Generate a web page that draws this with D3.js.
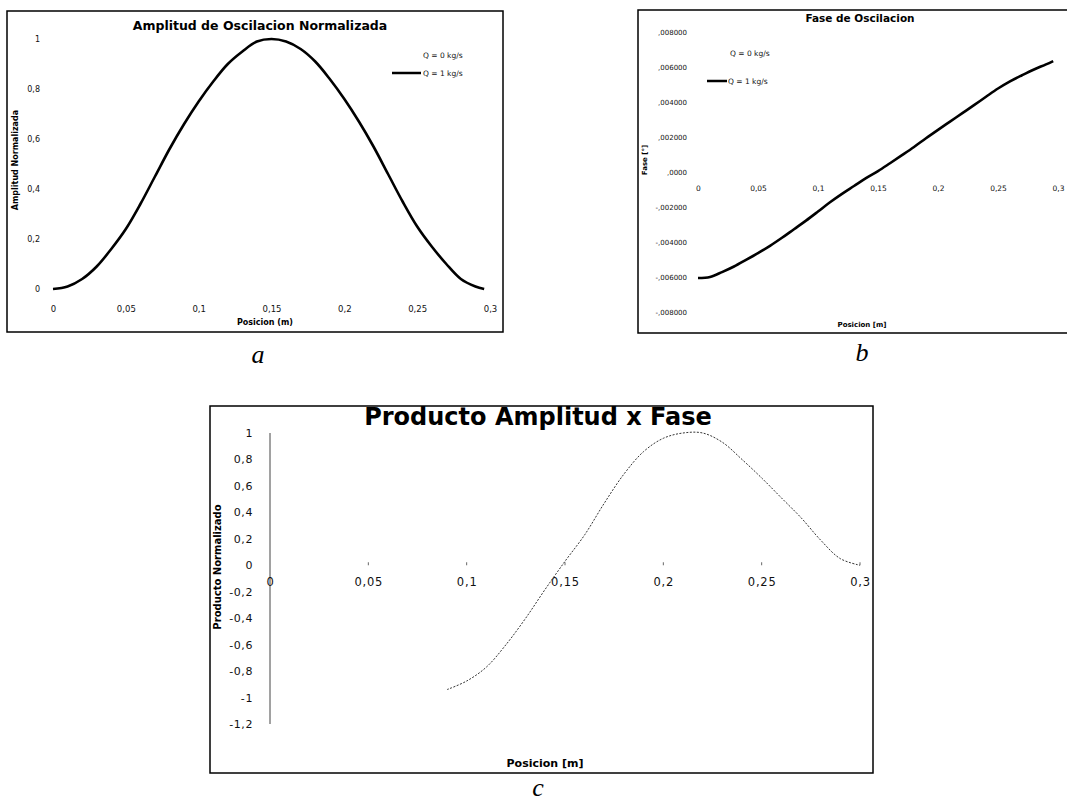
<!DOCTYPE html>
<html>
<head>
<meta charset="utf-8">
<script src="https://cdn.jsdelivr.net/npm/d3@7"></script>
<style>
body { margin: 0; background: #fff; }
svg { display: block; }
.tick text { font-family: "DejaVu Sans", sans-serif; fill: #111; }
.ttl { font-family: "DejaVu Sans", sans-serif; font-weight: bold; fill: #000; }
.lbl { font-family: "Liberation Serif", serif; font-style: italic; font-size: 26px; fill: #000; }
.leg { font-family: "DejaVu Sans", sans-serif; font-size: 7.5px; fill: #111; }
</style>
</head>
<body>
<script>
// panel a - amplitud normalizada
var posA = [0, 0.01, 0.02, 0.03, 0.04, 0.05, 0.06, 0.07, 0.08, 0.09, 0.10, 0.11, 0.12, 0.13, 0.14, 0.15,
            0.16, 0.17, 0.18, 0.19, 0.20, 0.21, 0.22, 0.23, 0.24, 0.25, 0.26, 0.27, 0.28, 0.29, 0.296];
var ampA = [0, 0.01, 0.04, 0.09, 0.16, 0.24, 0.34, 0.45, 0.56, 0.66, 0.75, 0.83, 0.90, 0.95, 0.99, 1.0,
            0.99, 0.96, 0.91, 0.84, 0.76, 0.67, 0.57, 0.46, 0.35, 0.25, 0.17, 0.10, 0.04, 0.01, 0];
var xTicksA = [0, 0.05, 0.1, 0.15, 0.2, 0.25, 0.3];
var xLabelsA = ["0", "0,05", "0,1", "0,15", "0,2", "0,25", "0,3"];
var yTicksA = [0, 0.2, 0.4, 0.6, 0.8, 1];
var yLabelsA = ["0", "0,2", "0,4", "0,6", "0,8", "1"];

// panel b - fase
var posB = [0, 0.01, 0.02, 0.03, 0.04, 0.05, 0.06, 0.07, 0.08, 0.09, 0.10, 0.11, 0.12, 0.13, 0.14, 0.15,
            0.16, 0.17, 0.18, 0.19, 0.20, 0.21, 0.22, 0.23, 0.24, 0.25, 0.26, 0.27, 0.28, 0.29, 0.296];
var faseB = [-0.00606, -0.00600, -0.00572, -0.00540, -0.00502, -0.00463, -0.00422, -0.00376, -0.00327,
             -0.00278, -0.00226, -0.00173, -0.00125, -0.00080, -0.00035, 0.00005, 0.00050, 0.00096,
             0.00143, 0.00193, 0.00241, 0.00288, 0.00335, 0.00382, 0.00430, 0.00477, 0.00518, 0.00553,
             0.00586, 0.00615, 0.00634];
var xTicksB = [0, 0.05, 0.1, 0.15, 0.2, 0.25, 0.3];
var xLabelsB = ["0", "0,05", "0,1", "0,15", "0,2", "0,25", "0,3"];
var yTicksB = [-0.008, -0.006, -0.004, -0.002, 0, 0.002, 0.004, 0.006, 0.008];
var yLabelsB = ["-,008000", "-,006000", "-,004000", "-,002000", ",0000", ",002000", ",004000", ",006000", ",008000"];

// panel c - producto
var posC = [0.09, 0.10, 0.11, 0.12, 0.13, 0.14, 0.15, 0.16, 0.17, 0.18, 0.19, 0.20, 0.21,
            0.22, 0.23, 0.24, 0.25, 0.26, 0.27, 0.28, 0.29, 0.30];
var prodC = [-0.94, -0.875, -0.77, -0.60, -0.40, -0.18, 0.03, 0.23, 0.47, 0.69, 0.86, 0.96, 1.0,
             1.0, 0.93, 0.80, 0.66, 0.51, 0.36, 0.19, 0.05, 0.0];
var xTicksC = [0, 0.05, 0.1, 0.15, 0.2, 0.25, 0.3];
var xLabelsC = ["0", "0,05", "0,1", "0,15", "0,2", "0,25", "0,3"];
var yTicksC = [-1.2, -1, -0.8, -0.6, -0.4, -0.2, 0, 0.2, 0.4, 0.6, 0.8, 1];
var yLabelsC = ["-1,2", "-1", "-0,8", "-0,6", "-0,4", "-0,2", "0", "0,2", "0,4", "0,6", "0,8", "1"];

var svg = d3.select("body").append("svg")
    .attr("width", 1067)
    .attr("height", 805);

svg.append("rect").attr("width", 1067).attr("height", 805).attr("fill", "#fff");

function lbl(arr, ticks) {
    return function(d) { return arr[ticks.indexOf(d)]; };
}

// ---------- a ----------
var ga = svg.append("g");
ga.append("rect")
    .attr("x", 7).attr("y", 11).attr("width", 496).attr("height", 321)
    .attr("fill", "none").attr("stroke", "#000").attr("stroke-width", 1.5);

var xa = d3.scaleLinear().domain([0, 0.3]).range([53, 490]);
var ya = d3.scaleLinear().domain([0, 1]).range([289, 39]);

ga.append("g")
    .attr("transform", "translate(0,303)")
    .call(d3.axisBottom(xa).tickValues(xTicksA).tickSize(0).tickFormat(lbl(xLabelsA, xTicksA)))
    .call(function(g) { g.select(".domain").remove(); })
    .selectAll("text").attr("font-size", 8.5);

ga.append("g")
    .attr("transform", "translate(43,0)")
    .call(d3.axisLeft(ya).tickValues(yTicksA).tickSize(0).tickFormat(lbl(yLabelsA, yTicksA)))
    .call(function(g) { g.select(".domain").remove(); })
    .selectAll("text").attr("font-size", 8).attr("dx", 0);

ga.append("path")
    .datum(posA.map(function(d, i) { return [d, ampA[i]]; }))
    .attr("fill", "none").attr("stroke", "#000").attr("stroke-width", 2.6)
    .attr("d", d3.line().x(function(d) { return xa(d[0]); }).y(function(d) { return ya(d[1]); }).curve(d3.curveCatmullRom));

ga.append("text").attr("class", "ttl").attr("x", 260).attr("y", 30)
    .attr("text-anchor", "middle").attr("font-size", 12.5)
    .text("Amplitud de Oscilacion Normalizada");
ga.append("text").attr("class", "ttl").attr("x", 265).attr("y", 325)
    .attr("text-anchor", "middle").attr("font-size", 8)
    .text("Posicion (m)");
ga.append("text").attr("class", "ttl")
    .attr("transform", "translate(18,160) rotate(-90)")
    .attr("text-anchor", "middle").attr("font-size", 8)
    .text("Amplitud Normalizada");

ga.append("text").attr("class", "leg").attr("x", 423).attr("y", 58).text("Q = 0 kg/s");
ga.append("line").attr("x1", 392).attr("x2", 421).attr("y1", 73).attr("y2", 73)
    .attr("stroke", "#000").attr("stroke-width", 2.5);
ga.append("text").attr("class", "leg").attr("x", 423).attr("y", 76).text("Q = 1 kg/s");

ga.append("text").attr("class", "lbl").attr("x", 258).attr("y", 363)
    .attr("text-anchor", "middle").text("a");

// ---------- b ----------
var gb = svg.append("g");
gb.append("path")
    .attr("d", "M1070,10 L638,10 L638,333 L1070,333")
    .attr("fill", "none").attr("stroke", "#000").attr("stroke-width", 1.5);

var xb = d3.scaleLinear().domain([0, 0.3]).range([698, 1058]);
var yb = d3.scaleLinear().domain([-0.008, 0.008]).range([312, 32]);

gb.append("g")
    .attr("transform", "translate(0," + (yb(0) + 16) + ")")
    .call(d3.axisBottom(xb).tickValues(xTicksB).tickSize(0).tickFormat(lbl(xLabelsB, xTicksB)))
    .call(function(g) { g.select(".domain").remove(); })
    .selectAll("text").attr("font-size", 7.5).attr("dy", 0);

gb.append("g")
    .attr("transform", "translate(687,0)")
    .call(d3.axisLeft(yb).tickValues(yTicksB).tickSize(0).tickFormat(lbl(yLabelsB, yTicksB)))
    .call(function(g) { g.select(".domain").remove(); })
    .selectAll("text").attr("font-size", 7).attr("x", 0);

gb.append("path")
    .datum(posB.map(function(d, i) { return [d, faseB[i]]; }))
    .attr("fill", "none").attr("stroke", "#000").attr("stroke-width", 2.6)
    .attr("d", d3.line().x(function(d) { return xb(d[0]); }).y(function(d) { return yb(d[1]); }).curve(d3.curveCatmullRom));

gb.append("text").attr("class", "ttl").attr("x", 860).attr("y", 22)
    .attr("text-anchor", "middle").attr("font-size", 10.5)
    .text("Fase de Oscilacion");
gb.append("text").attr("class", "ttl").attr("x", 862).attr("y", 327)
    .attr("text-anchor", "middle").attr("font-size", 7)
    .text("Posicion [m]");
gb.append("text").attr("class", "ttl")
    .attr("transform", "translate(647,160) rotate(-90)")
    .attr("text-anchor", "middle").attr("font-size", 7)
    .text("Fase [°]");

gb.append("text").attr("class", "leg").attr("x", 730).attr("y", 56).text("Q = 0 kg/s");
gb.append("line").attr("x1", 707).attr("x2", 727).attr("y1", 81).attr("y2", 81)
    .attr("stroke", "#000").attr("stroke-width", 2.5);
gb.append("text").attr("class", "leg").attr("x", 728).attr("y", 84).text("Q = 1 kg/s");

gb.append("text").attr("class", "lbl").attr("x", 862).attr("y", 361)
    .attr("text-anchor", "middle").text("b");

// ---------- c ----------
var gc = svg.append("g");
gc.append("rect")
    .attr("x", 210).attr("y", 406).attr("width", 663).attr("height", 367)
    .attr("fill", "none").attr("stroke", "#000").attr("stroke-width", 1.5);

var xc = d3.scaleLinear().domain([0, 0.3]).range([270, 860]);
var yc = d3.scaleLinear().domain([-1.2, 1]).range([724, 433]);

gc.append("line")
    .attr("x1", xc(0)).attr("x2", xc(0)).attr("y1", yc(1)).attr("y2", yc(-1.2))
    .attr("stroke", "#444").attr("stroke-width", 1);

gc.append("g")
    .attr("transform", "translate(0," + yc(0) + ")")
    .call(d3.axisBottom(xc).tickValues(xTicksC).tickSize(0).tickFormat(lbl(xLabelsC, xTicksC)))
    .call(function(g) { g.select(".domain").remove(); })
    .selectAll("text").attr("font-size", 11.5).attr("letter-spacing", 0.8).attr("dy", "1.55em");

gc.selectAll("line.xt")
    .data(xTicksC.slice(1))
    .enter().append("line")
    .attr("class", "xt")
    .attr("x1", function(d) { return xc(d); }).attr("x2", function(d) { return xc(d); })
    .attr("y1", yc(0) - 3).attr("y2", yc(0))
    .attr("stroke", "#666").attr("stroke-width", 1);

gc.append("g")
    .attr("transform", "translate(253,0)")
    .call(d3.axisLeft(yc).tickValues(yTicksC).tickSize(0).tickFormat(lbl(yLabelsC, yTicksC)))
    .call(function(g) { g.select(".domain").remove(); })
    .selectAll("text").attr("font-size", 11).attr("letter-spacing", 0.6).attr("x", 0);

gc.append("path")
    .datum(posC.map(function(d, i) { return [d, prodC[i]]; }))
    .attr("fill", "none").attr("stroke", "#333").attr("stroke-width", 1)
    .attr("stroke-dasharray", "2,1.5")
    .attr("d", d3.line().x(function(d) { return xc(d[0]); }).y(function(d) { return yc(d[1]); }).curve(d3.curveCatmullRom));

gc.append("text").attr("class", "ttl").attr("x", 538).attr("y", 425)
    .attr("text-anchor", "middle").attr("font-size", 24)
    .text("Producto Amplitud x Fase");
gc.append("text").attr("class", "ttl").attr("x", 545).attr("y", 767)
    .attr("text-anchor", "middle").attr("font-size", 11)
    .text("Posicion [m]");
gc.append("text").attr("class", "ttl")
    .attr("transform", "translate(221,567) rotate(-90)")
    .attr("text-anchor", "middle").attr("font-size", 10)
    .text("Producto Normalizado");

gc.append("text").attr("class", "lbl").attr("x", 538).attr("y", 796)
    .attr("text-anchor", "middle").text("c");
</script>
</body>
</html>
